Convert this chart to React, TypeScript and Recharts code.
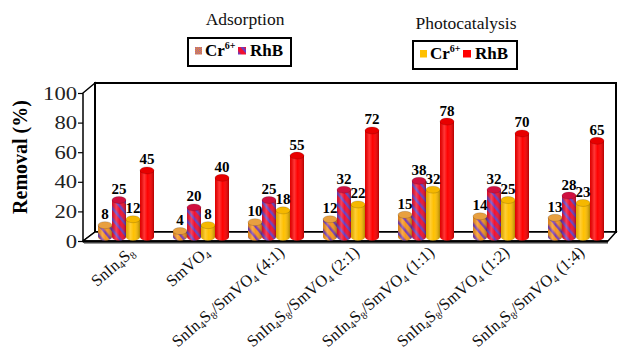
import React from "react";
import { BarChart, Bar, XAxis, YAxis, LabelList } from "recharts";

const categories = [
  "SnIn4S8",
  "SmVO4",
  "SnIn4S8/SmVO4 (4:1)",
  "SnIn4S8/SmVO4 (2:1)",
  "SnIn4S8/SmVO4 (1:1)",
  "SnIn4S8/SmVO4 (1:2)",
  "SnIn4S8/SmVO4 (1:4)",
];
const adsorptionCr = [8, 4, 10, 12, 15, 14, 13];
const adsorptionRhB = [25, 20, 25, 32, 38, 32, 28];
const photoCr = [12, 8, 18, 22, 32, 25, 23];
const photoRhB = [45, 40, 55, 72, 78, 70, 65];
const yTicks = [0, 20, 40, 60, 80, 100];

const data = categories.map((name, i) => ({
  name,
  adsCr: adsorptionCr[i],
  adsRhB: adsorptionRhB[i],
  phCr: photoCr[i],
  phRhB: photoRhB[i],
}));

const SERIF = '"Liberation Serif", "Times New Roman", serif';

// digits right after a letter are subscripts (SnIn4S8 etc)
function formulaParts(label: string) {
  const parts: { t: string; sub: boolean }[] = [];
  for (let i = 0; i < label.length; i++) {
    const ch = label[i];
    const sub = /\d/.test(ch) && i > 0 && /[A-Za-z]/.test(label[i - 1]);
    const last = parts[parts.length - 1];
    if (last && last.sub === sub) last.t += ch;
    else parts.push({ t: ch, sub });
  }
  return parts;
}

function XTick({ x, y, payload }: any) {
  const parts = formulaParts(String(payload.value));
  return (
    <g transform={`translate(${x + 10},${y + 17}) rotate(-41)`}>
      <text x={0} y={0} textAnchor="end" fontFamily={SERIF} fontSize={16.5} fill="#111">
        {parts.map((p, i) => (
          <tspan key={i} dy={p.sub ? 3 : i > 0 ? -3 : 0} fontSize={p.sub ? 10.5 : 16.5}>
            {p.t}
          </tspan>
        ))}
      </text>
    </g>
  );
}

function YTick({ x, y, payload }: any) {
  const s = String(payload.value);
  return (
    <g>
      <line x1={x - 5} x2={x} y1={y + 4.5} y2={y + 4.5} stroke="#000" strokeWidth={1.2} />
      <text
        x={x - 6}
        y={y + 10.5}
        textAnchor="end"
        fontFamily={SERIF}
        fontSize={18}
        fill="#222"
        textLength={s.length * 11.3}
        lengthAdjust="spacingAndGlyphs"
      >
        {s}
      </text>
    </g>
  );
}

// cylinder bar: body + shading + top/bottom ellipses
function Cylinder(props: any) {
  const { x, y, width, height, fill, top } = props;
  if (width == null || height == null) return null;
  const ry = 3.5;
  const cx = x + width / 2;
  const rx = width / 2;
  return (
    <g>
      <ellipse cx={cx} cy={y + height} rx={rx} ry={ry} fill={fill} />
      <ellipse cx={cx} cy={y + height} rx={rx} ry={ry} fill="url(#shade)" />
      <rect x={x} y={y} width={width} height={height} fill={fill} />
      <rect x={x} y={y} width={width} height={height} fill="url(#shade)" />
      <ellipse cx={cx} cy={y} rx={rx} ry={ry} fill={top} stroke="rgba(0,0,0,0.25)" strokeWidth={0.6} />
    </g>
  );
}

const labelStyle = { fill: "#000", fontSize: 15, fontWeight: 700, fontFamily: SERIF };

function LegendBox({ x, y, w, h, first, second }: any) {
  return (
    <g>
      <rect x={x} y={y} width={w} height={h} fill="#fff" stroke="#000" strokeWidth={2} />
      <rect x={x + 7} y={y + 9} width={7} height={7.5} fill={first} />
      <text x={x + 17} y={y + 18} fontFamily={SERIF} fontSize={17} fontWeight={700} fill="#000">
        Cr
        <tspan fontSize={10} dy={-7}>6+</tspan>
      </text>
      <rect x={x + 50} y={y + 9} width={8} height={7.5} fill={second} />
      <text x={x + 62} y={y + 18} fontFamily={SERIF} fontSize={17} fontWeight={700} fill="#000">
        RhB
      </text>
    </g>
  );
}

export default function App() {
  return (
    <div style={{ position: "absolute", left: 0, top: 0, width: 619, height: 350, background: "#fff" }}>
      {/* 3D frame behind the chart, plus shared defs */}
      <svg width={619} height={350} style={{ position: "absolute", left: 0, top: 0 }}>
        <defs>
          <linearGradient id="shade" x1="0" y1="0" x2="1" y2="0">
            <stop offset="0%" stopColor="#000" stopOpacity={0.12} />
            <stop offset="30%" stopColor="#fff" stopOpacity={0.22} />
            <stop offset="55%" stopColor="#fff" stopOpacity={0} />
            <stop offset="100%" stopColor="#000" stopOpacity={0.3} />
          </linearGradient>
          <pattern id="hatchOrange" patternUnits="userSpaceOnUse" width={7} height={7} patternTransform="rotate(-40)">
            <rect width={7} height={7} fill="#F7941D" />
            <rect width={2.5} height={7} fill="#7A3DB0" />
          </pattern>
          <pattern id="hatchRed" patternUnits="userSpaceOnUse" width={7} height={7} patternTransform="rotate(-40)">
            <rect width={7} height={7} fill="#F01030" />
            <rect width={2.5} height={7} fill="#6A3CC0" />
          </pattern>
          <pattern id="checkOrange" patternUnits="userSpaceOnUse" width={2} height={2}>
            <rect width={2} height={2} fill="#F7941D" />
            <rect width={1} height={1} fill="#9A5DB0" />
            <rect x={1} y={1} width={1} height={1} fill="#9A5DB0" />
          </pattern>
        </defs>
        <polygon points="83,93 95,83 95,232 83,241" fill="#fff" stroke="#000" strokeWidth={1.5} />
        <rect x={95} y={83} width={521} height={149} fill="#fff" stroke="#000" strokeWidth={2} />
        <polygon points="83,241 95,232 616,232 608,241" fill="#fff" stroke="#000" strokeWidth={1.5} />
        <line x1={83} y1={241.5} x2={608} y2={241.5} stroke="#000" strokeWidth={2.5} />
        <line x1={84} y1={243.5} x2={608} y2={243.5} stroke="#999" strokeWidth={1} />
      </svg>

      <div style={{ position: "absolute", left: 0, top: 0 }}>
        <BarChart
          width={619}
          height={350}
          data={data}
          margin={{ top: 89, right: 6, bottom: 13, left: 23 }}
          barSize={14}
          barGap={0}
        >
          <XAxis
            dataKey="name"
            height={100}
            axisLine={false}
            tickLine={false}
            tickSize={0}
            tickMargin={0}
            interval={0}
            padding={{ left: 5, right: 0 }}
            tick={<XTick />}
          />
          <YAxis
            width={60}
            domain={[0, 100]}
            ticks={yTicks}
            axisLine={false}
            tickLine={false}
            tickSize={0}
            tickMargin={0}
            tick={<YTick />}
          />
          <Bar dataKey="adsCr" fill="url(#hatchOrange)" isAnimationActive={false}
            shape={(p: any) => <Cylinder {...p} fill="url(#hatchOrange)" top="#E8A040" />}>
            <LabelList dataKey="adsCr" position="top" offset={6} style={labelStyle} />
          </Bar>
          <Bar dataKey="adsRhB" fill="url(#hatchRed)" isAnimationActive={false}
            shape={(p: any) => <Cylinder {...p} fill="url(#hatchRed)" top="#D01040" />}>
            <LabelList dataKey="adsRhB" position="top" offset={6} style={labelStyle} />
          </Bar>
          <Bar dataKey="phCr" fill="#FFC000" isAnimationActive={false}
            shape={(p: any) => <Cylinder {...p} fill="#FFC000" top="#F5B800" />}>
            <LabelList dataKey="phCr" position="top" offset={6} style={labelStyle} />
          </Bar>
          <Bar dataKey="phRhB" fill="#FF0000" isAnimationActive={false}
            shape={(p: any) => <Cylinder {...p} fill="#FF0000" top="#E80000" />}>
            <LabelList dataKey="phRhB" position="top" offset={6} style={labelStyle} />
          </Bar>
        </BarChart>
      </div>

      {/* titles, legends and axis title */}
      <svg width={619} height={350} style={{ position: "absolute", left: 0, top: 0, pointerEvents: "none" }}>
        <text x={245} y={25} textAnchor="middle" fontFamily={SERIF} fontSize={17.5} fill="#111">
          Adsorption
        </text>
        <text x={466} y={29} textAnchor="middle" fontFamily={SERIF} fontSize={17.5} fill="#111">
          Photocatalysis
        </text>
        <LegendBox x={188} y={38} w={103} h={28} first="url(#checkOrange)" second="url(#hatchRed)" />
        <LegendBox x={413} y={41} w={104} h={28} first="#FFC000" second="#FF0000" />
        <text
          transform="translate(27,157) rotate(-90)"
          textAnchor="middle"
          fontFamily={SERIF}
          fontSize={20}
          fontWeight={700}
          fill="#000"
        >
          Removal (%)
        </text>
      </svg>
    </div>
  );
}
